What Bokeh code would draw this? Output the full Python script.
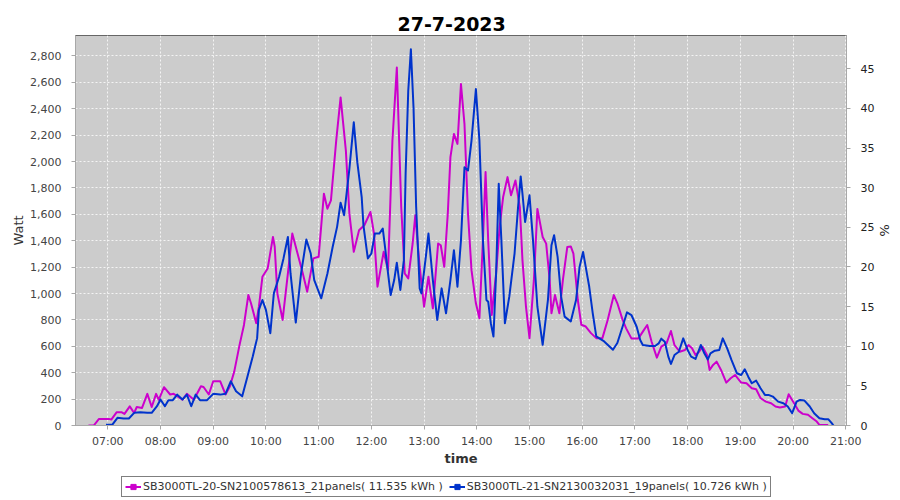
import pandas as pd
from bokeh.plotting import figure
from bokeh.layouts import column
from bokeh.models import (Range1d, LinearAxis, FixedTicker, NumeralTickFormatter,
                          DatetimeTickFormatter, Legend, LegendItem)
from bokeh.embed import file_html
from bokeh.resources import INLINE

DAY = "2023-07-27"
TITLE = "27-7-2023"

series1_label = "SB3000TL-20-SN2100578613_21panels( 11.535 kWh )"
series1_times = [
    "06:38", "06:44", "06:50", "07:01", "07:04", "07:10", "07:16", "07:19", "07:25", "07:30",
    "07:33", "07:39", "07:45", "07:50", "07:55", "07:58", "08:04", "08:11", "08:15", "08:25",
    "08:30", "08:38", "08:46", "08:49", "08:55", "09:00", "09:08", "09:14", "09:19", "09:24",
    "09:30", "09:35", "09:40", "09:43", "09:49", "09:52", "09:56", "10:02", "10:08", "10:10",
    "10:13", "10:19", "10:25", "10:30", "10:36", "10:42", "10:47", "10:54", "11:00", "11:06",
    "11:10", "11:14", "11:20", "11:25", "11:31", "11:35", "11:40", "11:46", "11:52", "11:59",
    "12:03", "12:07", "12:14", "12:19", "12:24", "12:29", "12:34", "12:38", "12:42", "12:47",
    "12:50", "12:55", "13:00", "13:05", "13:10", "13:16", "13:19", "13:23", "13:27", "13:30",
    "13:34", "13:38", "13:42", "13:46", "13:50", "13:54", "13:59", "14:03", "14:07", "14:10",
    "14:13", "14:17", "14:22", "14:26", "14:30", "14:35", "14:39", "14:44", "14:49", "14:52",
    "14:56", "15:00", "15:05", "15:09", "15:15", "15:19", "15:23", "15:25", "15:29", "15:34",
    "15:38", "15:43", "15:47", "15:50", "15:55", "15:59", "16:04", "16:10", "16:16", "16:23",
    "16:29", "16:36", "16:40", "16:46", "16:50", "16:56", "17:04", "17:09", "17:14", "17:19",
    "17:25", "17:30", "17:36", "17:41", "17:45", "17:51", "17:57", "18:01", "18:05", "18:09",
    "18:13", "18:17", "18:22", "18:25", "18:29", "18:33", "18:38", "18:44", "18:49", "18:54",
    "18:58", "19:01", "19:07", "19:13", "19:18", "19:23", "19:29", "19:35", "19:40", "19:45",
    "19:51", "19:55", "20:00", "20:06", "20:11", "20:17", "20:22", "20:27", "20:30", "20:40",
]
series1_watt = [
    0, 0, 50, 50, 45, 100, 100, 88, 145, 95,
    140, 133, 240, 140, 240, 195, 290, 235, 240, 195,
    240, 195, 297, 292, 235, 335, 335, 235, 297, 410,
    611, 762, 989, 926, 775, 900, 1127, 1190, 1429, 1354,
    1001, 800, 1152, 1454, 1303, 1152, 1014, 1266, 1278, 1756,
    1643, 1706, 2159, 2486, 2083, 1605, 1316, 1479, 1517, 1618,
    1454, 1052, 1316, 1177, 2159, 2712, 1655, 1152, 1115, 1379,
    1593, 1203, 900, 1127, 888, 1379, 1366, 1203, 1605, 2033,
    2209, 2134, 2587, 2284, 1605, 1177, 926, 813, 1404, 1920,
    1404, 838, 1152, 1505, 1731, 1882, 1744, 1857, 1655, 1253,
    900, 662, 1101, 1641, 1428, 1378, 1101, 850, 988, 850,
    1101, 1352, 1357, 1302, 951, 763, 750, 700, 662, 662,
    800, 988, 926, 800, 736, 660, 660, 711, 761, 635,
    514, 597, 622, 716, 610, 559, 572, 610, 585, 534,
    559, 597, 534, 421, 459, 484, 421, 325, 358, 383,
    350, 325, 320, 282, 275, 207, 181, 169, 144, 136,
    144, 237, 181, 113, 88, 81, 55, 30, 4, 4,
]

series2_label = "SB3000TL-21-SN2130032031_19panels( 10.726 kWh )"
series2_times = [
    "06:58", "07:05", "07:11", "07:18", "07:24", "07:30", "07:37", "07:45", "07:50", "07:56",
    "08:00", "08:05", "08:09", "08:14", "08:19", "08:25", "08:30", "08:35", "08:40", "08:45",
    "08:53", "09:00", "09:08", "09:14", "09:20", "09:26", "09:33", "09:39", "09:45", "09:50",
    "09:52", "09:56", "10:00", "10:05", "10:09", "10:15", "10:20", "10:25", "10:28", "10:34",
    "10:40", "10:46", "10:51", "10:55", "11:03", "11:10", "11:16", "11:21", "11:25", "11:29",
    "11:35", "11:40", "11:44", "11:49", "11:51", "11:56", "12:00", "12:04", "12:09", "12:13",
    "12:16", "12:19", "12:22", "12:26", "12:29", "12:33", "12:37", "12:39", "12:42", "12:45",
    "12:48", "12:51", "12:55", "12:57", "13:02", "13:05", "13:10", "13:15", "13:20", "13:25",
    "13:30", "13:34", "13:38", "13:42", "13:46", "13:50", "13:54", "13:59", "14:03", "14:07",
    "14:11", "14:13", "14:16", "14:19", "14:22", "14:25", "14:28", "14:32", "14:37", "14:43",
    "14:47", "14:50", "14:52", "14:55", "15:00", "15:04", "15:09", "15:15", "15:21", "15:25",
    "15:28", "15:32", "15:36", "15:40", "15:47", "15:53", "15:57", "16:01", "16:04", "16:08",
    "16:12", "16:16", "16:25", "16:35", "16:40", "16:46", "16:51", "16:56", "17:02", "17:06",
    "17:09", "17:17", "17:23", "17:27", "17:30", "17:34", "17:38", "17:41", "17:45", "17:50",
    "17:55", "18:00", "18:04", "18:09", "18:15", "18:19", "18:23", "18:26", "18:31", "18:36",
    "18:40", "18:45", "18:50", "18:56", "19:01", "19:05", "19:09", "19:13", "19:18", "19:23",
    "19:28", "19:32", "19:37", "19:43", "19:49", "19:54", "19:59", "20:04", "20:08", "20:13",
    "20:19", "20:24", "20:30", "20:36", "20:40", "20:44", "20:46",
]
series2_watt = [
    5, 5, 58, 53, 53, 96, 101, 96, 96, 146,
    197, 146, 192, 192, 234, 197, 234, 146, 234, 192,
    192, 240, 234, 240, 335, 259, 221, 372, 523, 662,
    876, 951, 876, 699, 1001, 1127, 1266, 1429, 1152, 780,
    1152, 1409, 1303, 1102, 964, 1152, 1354, 1505, 1688, 1593,
    1945, 2297, 1995, 1731, 1517, 1266, 1303, 1454, 1454, 1492,
    1328, 1152, 989, 1102, 1233, 1027, 1253, 1907, 2536, 2850,
    2410, 1655, 1039, 1001, 1278, 1454, 1102, 800, 1039, 850,
    1102, 1328, 1052, 1404, 1957, 1932, 2159, 2549, 2159, 1404,
    951, 938, 775, 674, 1152, 1832, 1404, 775, 976, 1303,
    1655, 1887, 1756, 1542, 1744, 1404, 900, 611, 951, 1366,
    1442, 1278, 976, 825, 788, 951, 1202, 1315, 1202, 1051,
    850, 675, 637, 574, 625, 750, 857, 837, 748, 648,
    610, 602, 602, 622, 658, 635, 522, 466, 534, 559,
    660, 572, 522, 504, 610, 547, 501, 547, 567, 572,
    660, 585, 496, 396, 383, 426, 370, 320, 340, 282,
    232, 232, 219, 181, 169, 144, 93, 181, 194, 189,
    144, 93, 55, 48, 48, 18, 0,
]

hour_ticks = ["07:00", "08:00", "09:00", "10:00", "11:00", "12:00", "13:00", "14:00",
              "15:00", "16:00", "17:00", "18:00", "19:00", "20:00", "21:00"]
watt_ticks = [0, 200, 400, 600, 800, 1000, 1200, 1400, 1600, 1800, 2000, 2200, 2400, 2600, 2800]
pct_ticks = [0, 5, 10, 15, 20, 25, 30, 35, 40, 45]

MAGENTA = "#cc00cc"
BLUE = "#0033cc"
FONT = "DejaVu Sans"


def to_dt(times):
    return pd.to_datetime([f"{DAY} {t}" for t in times])


x1 = to_dt(series1_times)
x2 = to_dt(series2_times)
x_range = Range1d(pd.Timestamp(f"{DAY} 06:23:15"), pd.Timestamp(f"{DAY} 21:00:50"))

p = figure(width=900, height=468, x_axis_type="datetime",
           output_backend="svg", toolbar_location=None,
           x_range=x_range, y_range=Range1d(0, 2955),
           min_border_left=75, min_border_right=54, min_border_top=35, min_border_bottom=41)

p.background_fill_color = "#cccccc"
p.border_fill_color = "white"
p.outline_line_color = "#666666"
p.outline_line_width = 1

p.title.text = TITLE
p.title.align = "left"
p.title.offset = 322
p.title.standoff = 10
p.title.text_font = FONT
p.title.text_font_size = "19px"
p.title.text_font_style = "bold"
p.title.text_color = "black"

for g in (p.xgrid[0], p.ygrid[0]):
    g.grid_line_color = "#f4f4f4"
    g.grid_line_dash = "2 2"
    g.grid_line_width = 1

xa = p.xaxis[0]
xa.ticker = FixedTicker(ticks=[pd.Timestamp(f"{DAY} {h}").value / 1e6 for h in hour_ticks])
xa.formatter = DatetimeTickFormatter(hours="%H:%M", hourmin="%H:%M", minutes="%H:%M",
                                     minsec="%H:%M", days="%H:%M", seconds="%H:%M")
xa.axis_label = "time"
xa.axis_label_text_font = FONT
xa.axis_label_text_font_size = "13px"
xa.axis_label_text_font_style = "bold"
xa.axis_label_text_color = "#333333"
xa.axis_label_standoff = 0
xa.major_label_standoff = 5

ya = p.yaxis[0]
ya.ticker = FixedTicker(ticks=watt_ticks)
ya.formatter = NumeralTickFormatter(format="0,0")
ya.axis_label = "Watt"
ya.axis_label_text_font = FONT
ya.axis_label_text_font_size = "13px"
ya.axis_label_text_font_style = "normal"
ya.axis_label_text_color = "#333333"
ya.axis_label_standoff = 1
ya.major_label_standoff = 10

p.extra_y_ranges = {"pct": Range1d(0, 49.2)}
ra = LinearAxis(y_range_name="pct", axis_label="%")
ra.ticker = FixedTicker(ticks=pct_ticks)
ra.axis_label_text_font = FONT
ra.axis_label_text_font_size = "13px"
ra.axis_label_text_font_style = "normal"
ra.axis_label_text_color = "#222222"
ra.axis_label_standoff = 0
ra.major_label_standoff = 10
ra.major_label_text_color = "#222222"
p.add_layout(ra, "right")

for ax in (xa, ya, ra):
    ax.major_label_text_font = FONT
    ax.major_label_text_font_size = "11px"
    ax.axis_line_color = "#a8a8a8"
    ax.major_tick_line_color = "#a8a8a8"
    ax.major_tick_out = 4
    ax.major_tick_in = 0
    ax.minor_tick_line_color = None
xa.major_label_text_color = "#444444"
ya.major_label_text_color = "#444444"

p.line(x1, series1_watt, line_color=MAGENTA, line_width=2, line_join="round")
p.line(x2, series2_watt, line_color=BLUE, line_width=2, line_join="round")

# strip underneath that carries only the legend (its data lies outside the strip's view)
lp = figure(width=900, height=32, output_backend="svg", toolbar_location=None,
            x_axis_location=None, y_axis_location=None,
            x_range=x_range, y_range=Range1d(-20000, -19000),
            min_border_left=0, min_border_right=0, min_border_top=0, min_border_bottom=0)
lp.grid.visible = False
lp.outline_line_color = None
lp.background_fill_color = "white"
lp.border_fill_color = "white"
l1 = lp.line(x1, series1_watt, line_color=MAGENTA, line_width=2)
s1 = lp.scatter(x1, series1_watt, marker="square", size=2, color=MAGENTA)
l2 = lp.line(x2, series2_watt, line_color=BLUE, line_width=2)
s2 = lp.scatter(x2, series2_watt, marker="square", size=2, color=BLUE)

legend = Legend(items=[LegendItem(label=series1_label, renderers=[l1, s1]),
                       LegendItem(label=series2_label, renderers=[l2, s2])],
                location=(46, 3), orientation="horizontal",
                border_line_color="black", border_line_width=1,
                background_fill_color="white", background_fill_alpha=1,
                padding=3, spacing=6, margin=0, label_standoff=2,
                glyph_width=16, glyph_height=13, label_height=13,
                label_text_font=FONT, label_text_font_size="11px",
                label_text_color="#333333")
lp.add_layout(legend, "center")

open("out.html", "w").write(file_html(column(p, lp, spacing=0), INLINE))
